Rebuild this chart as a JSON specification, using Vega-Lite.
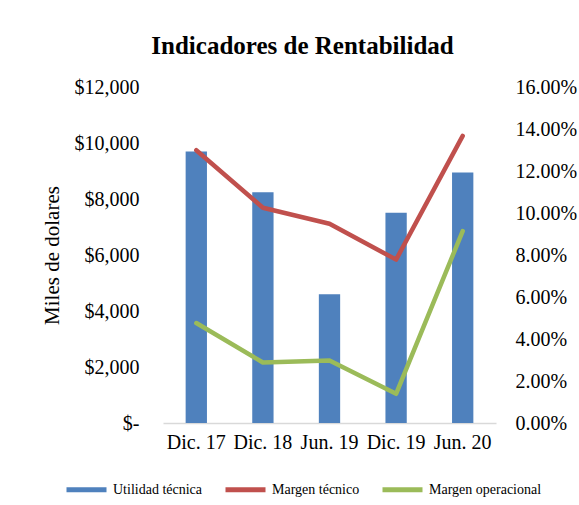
{
  "$schema": "https://vega.github.io/schema/vega-lite/v6.json",
  "width": 333,
  "height": 336,
  "autosize": {"type": "none"},
  "padding": {"left": 163, "top": 87, "right": 83, "bottom": 82},
  "background": "white",
  "config": {
    "font": "Liberation Serif",
    "view": {"stroke": null},
    "axis": {"grid": false, "labelFont": "Liberation Serif", "titleFont": "Liberation Serif", "labelColor": "#000", "titleColor": "#000"},
    "legend": {
      "orient": "none",
      "legendX": -99,
      "legendY": 380,
      "direction": "horizontal",
      "columns": 3,
      "symbolType": "stroke",
      "symbolSize": 1600,
      "symbolStrokeWidth": 5,
      "labelFont": "Liberation Serif",
      "labelFontSize": 14,
      "labelColor": "#000",
      "labelOffset": 4,
      "columnPadding": 12
    }
  },
  "title": {
    "text": "Indicadores de Rentabilidad",
    "font": "Liberation Serif",
    "fontSize": 25,
    "fontWeight": "bold",
    "color": "#000",
    "anchor": "middle",
    "dx": -27,
    "offset": 18
  },
  "data": {
    "values": [
      {"periodo": "Dic. 17", "utilidad": 9700, "mt": 0.1299, "mo": 0.0476},
      {"periodo": "Dic. 18", "utilidad": 8240, "mt": 0.1025, "mo": 0.0288},
      {"periodo": "Jun. 19", "utilidad": 4600, "mt": 0.0949, "mo": 0.0298},
      {"periodo": "Dic. 19", "utilidad": 7510, "mt": 0.0778, "mo": 0.0139},
      {"periodo": "Jun. 20", "utilidad": 8950, "mt": 0.1367, "mo": 0.0914}
    ]
  },
  "encoding": {
    "x": {
      "field": "periodo",
      "type": "nominal",
      "sort": null,
      "scale": {"paddingInner": 0.68, "paddingOuter": 0.34},
      "axis": {"title": null, "labelAngle": 0, "labelFontSize": 20, "labelPadding": 9, "ticks": false, "domainColor": "#d9d9d9", "domainWidth": 1.5}
    }
  },
  "layer": [
    {
      "mark": {"type": "bar"},
      "encoding": {
        "y": {
          "field": "utilidad",
          "type": "quantitative",
          "scale": {"domain": [0, 12000]},
          "axis": {
            "title": "Miles de dolares",
            "titleFontSize": 21,
            "titleFontWeight": "normal",
            "titleX": -111,
            "titleY": 168,
            "titleAngle": -90,
            "titleAlign": "center",
            "titleBaseline": "middle",
            "values": [0, 2000, 4000, 6000, 8000, 10000, 12000],
            "labelExpr": "datum.value == 0 ? '$-' : '$' + format(datum.value, ',')",
            "labelFontSize": 20,
            "labelPadding": 24,
            "ticks": false,
            "domain": false
          }
        },
        "color": {
          "datum": "Utilidad técnica",
          "type": "nominal",
          "scale": {"domain": ["Utilidad técnica", "Margen técnico", "Margen operacional"], "range": ["#4F81BD", "#C0504D", "#9BBB59"]},
          "legend": {"title": null, "labelFont": "Liberation Serif", "labelFontSize": 14}
        }
      }
    },
    {
      "transform": [
        {"fold": ["mt", "mo"], "as": ["serie", "valor"]},
        {"calculate": "datum.serie == 'mt' ? 'Margen técnico' : 'Margen operacional'", "as": "nombre"}
      ],
      "mark": {"type": "line", "strokeWidth": 4.5, "strokeCap": "round", "strokeJoin": "round"},
      "encoding": {
        "y": {
          "field": "valor",
          "type": "quantitative",
          "scale": {"domain": [0, 0.16]},
          "axis": {
            "orient": "right",
            "title": null,
            "values": [0, 0.02, 0.04, 0.06, 0.08, 0.1, 0.12, 0.14, 0.16],
            "format": ".2%",
            "labelFontSize": 20,
            "labelPadding": 19,
            "ticks": false,
            "domain": false
          }
        },
        "color": {"field": "nombre", "type": "nominal", "legend": {"title": null, "labelFont": "Liberation Serif", "labelFontSize": 14}}
      }
    }
  ],
  "resolve": {"scale": {"y": "independent"}}
}
